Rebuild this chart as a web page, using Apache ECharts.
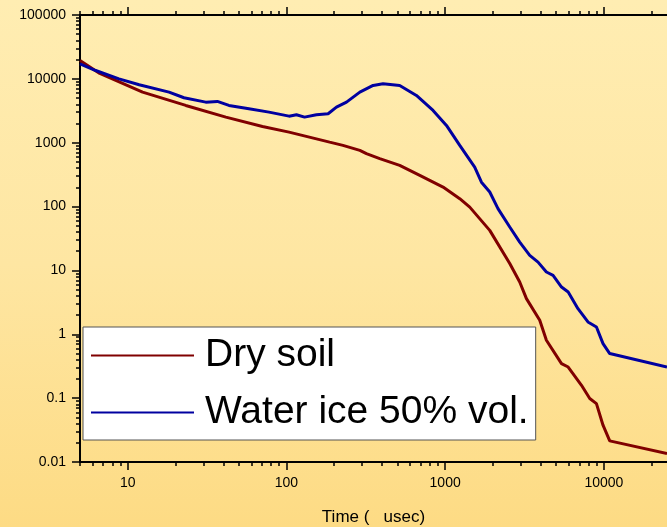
<!DOCTYPE html>
<html>
<head>
<meta charset="utf-8">
<script src="https://cdn.jsdelivr.net/npm/echarts@6/dist/echarts.min.js"></script>
<style>
html,body{margin:0;padding:0;}
#chart{width:667px;height:527px;background:linear-gradient(to bottom,#FFEDB2 0%,#FEE6A2 50%,#FDDB84 100%);}
</style>
</head>
<body>
<div id="chart"></div>
<script>
// Data (time in usec, response on log scale)
const dryTime = [5, 6.66, 12.4, 23.2, 41.5, 70.6, 103.8, 187, 227, 290, 319, 387, 517, 692, 970, 1236, 1429, 1910, 2553, 2950, 3252, 3945, 4345, 5410, 5960, 7230, 8150, 8980, 9880, 10890, 25000];
const dryValue = [19400, 12150, 6190, 3835, 2517, 1799, 1466, 1021, 908, 757, 673, 562, 441, 308, 202, 133, 98, 42.4, 12.8, 6.58, 3.62, 1.66, 0.805, 0.347, 0.307, 0.159, 0.0987, 0.082, 0.0377, 0.0214, 0.0136];
const iceTime = [5, 6.28, 8.8, 11.8, 18.2, 22.6, 31, 36.7, 43.4, 58, 77.6, 103.8, 115.6, 130, 154.5, 183, 206.5, 239, 290, 351.6, 406, 517, 659, 839, 1019, 1236, 1535, 1693, 1910, 2152, 2553, 2950, 3412, 3848, 4345, 4786, 5410, 5960, 6870, 7940, 8980, 9880, 10890, 25000];
const iceValue = [17200, 13500, 10000, 8090, 6190, 5060, 4318, 4430, 3837, 3406, 3015, 2606, 2740, 2518, 2740, 2843, 3605, 4318, 6190, 7886, 8375, 7886, 5495, 3205, 1866, 908, 415, 241, 169, 92.7, 47.8, 27.8, 17.2, 13.5, 9.44, 8.38, 5.5, 4.6, 2.52, 1.56, 1.30, 0.715, 0.499, 0.308];
const seriesNames = ['Dry soil', 'Water ice 50% vol.'];
const xMajorTicks = [10, 100, 1000, 10000];
const yMajorTicks = [0.01, 0.1, 1, 10, 100, 1000, 10000, 100000];
const xAxisName = 'Time (   usec)';

function minorsBetween(lo, hi) {
  const out = [];
  for (let d = lo; d < hi; d *= 10) {
    for (let k = 2; k <= 9; k++) out.push(+(d * k).toPrecision(3));
  }
  return out;
}
const xMinorTicks = minorsBetween(1, 100000).filter(v => v >= 5 && v <= 25000);
const yMinorTicks = minorsBetween(0.01, 100000);

const fmt = v => String(Number((+v).toPrecision(3)));
const axisCol = '#000';
const font = 'Liberation Sans, Arial, sans-serif';

function xAx(pos, major, showLabel) {
  return {
    type: 'log', logBase: 10, min: 5, max: 25000, position: pos,
    axisLine: { show: major, onZero: false, lineStyle: { color: axisCol, width: 2 } },
    axisTick: { show: true, inside: false, length: major ? 8 : 4,
      customValues: major ? xMajorTicks : xMinorTicks,
      lineStyle: { color: axisCol, width: 1.5 } },
    axisLabel: { show: showLabel, customValues: xMajorTicks, formatter: fmt,
      color: '#000', fontSize: 14, fontFamily: font, margin: 14 },
    splitLine: { show: false }, minorTick: { show: false },
    name: showLabel ? xAxisName : '', nameLocation: 'middle', nameGap: 47,
    nameTextStyle: { color: '#000', fontSize: 17, fontFamily: font }
  };
}
function yAx(major) {
  return {
    type: 'log', logBase: 10, min: 0.01, max: 100000, position: 'left',
    axisLine: { show: major, onZero: false, lineStyle: { color: axisCol, width: 2 } },
    axisTick: { show: true, inside: false, length: major ? 8 : 4,
      customValues: major ? yMajorTicks : yMinorTicks,
      lineStyle: { color: axisCol, width: 1.5 } },
    axisLabel: { show: major, customValues: yMajorTicks, formatter: fmt,
      color: '#000', fontSize: 14, fontFamily: font, margin: 14 },
    splitLine: { show: false }, minorTick: { show: false }
  };
}

const chart = echarts.init(document.getElementById('chart'), null, { renderer: 'canvas' });
chart.setOption({
  backgroundColor: 'transparent',
  animation: false,
  grid: { left: 80, right: 0, top: 15, bottom: 65, containLabel: false, outerBoundsMode: 'none' },
  xAxis: [xAx('bottom', true, true), xAx('bottom', false, false), xAx('top', true, false), xAx('top', false, false)],
  yAxis: [yAx(true), yAx(false)],
  legend: {
    orient: 'vertical', left: 83, top: 327,
    backgroundColor: '#fff', borderColor: '#555', borderWidth: 1,
    padding: [9, 7, 8, 8], itemGap: 18,
    itemWidth: 103, itemHeight: 2, icon: 'rect',
    textStyle: { color: '#000', fontSize: 39, lineHeight: 39, fontFamily: font, padding: [0, 0, 0, 6] },
    data: seriesNames
  },
  series: [
    { name: seriesNames[0], type: 'line', xAxisIndex: 0, yAxisIndex: 0, showSymbol: false,
      color: '#800000', lineStyle: { width: 3, color: '#800000' },
      data: dryTime.map((t, i) => [t, dryValue[i]]) },
    { name: seriesNames[1], type: 'line', xAxisIndex: 0, yAxisIndex: 0, showSymbol: false,
      color: '#0000A0', lineStyle: { width: 3, color: '#0000A0' },
      data: iceTime.map((t, i) => [t, iceValue[i]]) }
  ]
});
</script>
</body>
</html>
